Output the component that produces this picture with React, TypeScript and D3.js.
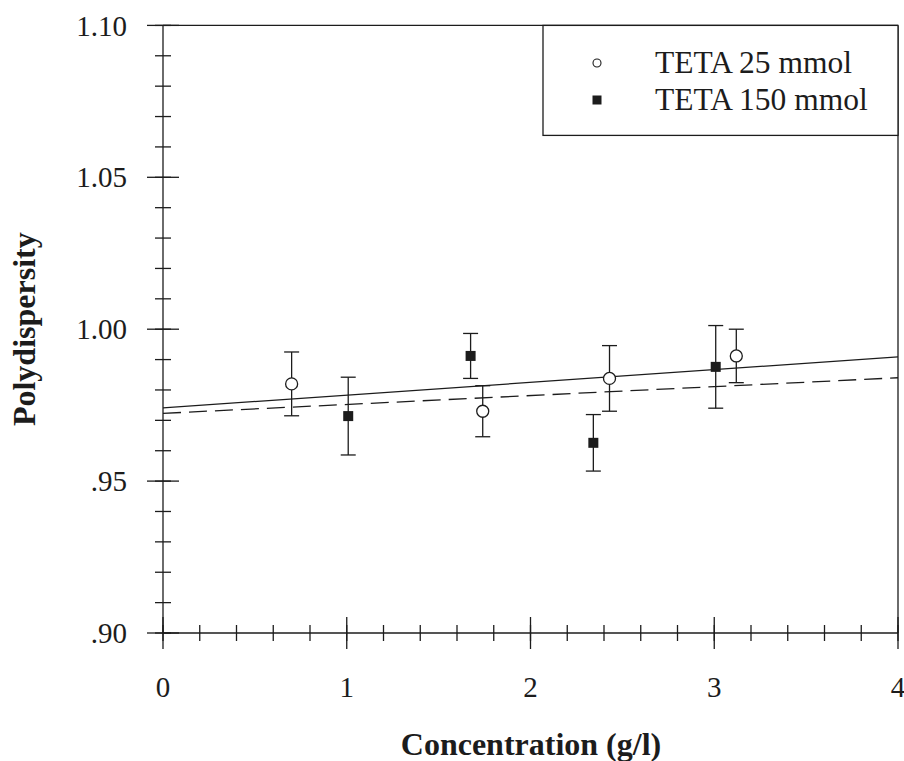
import React from "react";
import * as d3 from "d3";

const xTicks = [0, 1, 2, 3, 4];
const yTicks = [0.9, 0.95, 1.0, 1.05, 1.1];
const yTickLabels = [".90", ".95", "1.00", "1.05", "1.10"];

const teta25X = [0.70, 1.74, 2.43, 3.12];
const teta25Y = [0.982, 0.973, 0.9838, 0.9912];
const teta25Err = [0.0105, 0.0084, 0.0108, 0.0088];

const teta150X = [1.008, 1.674, 2.342, 3.008];
const teta150Y = [0.9714, 0.9912, 0.9626, 0.9876];
const teta150Err = [0.0128, 0.0074, 0.0093, 0.0136];

const fitIntercept = [0.9741, 0.9723];
const fitSlope = [0.0042, 0.00293];
const fitDash = ["", "18,8"];

const legendLabels = ["TETA 25 mmol", "TETA 150 mmol"];

const W = 904;
const H = 761;
const INK = "#1c1c1c";

export default function App() {
  const x = d3.scaleLinear().domain([0, 4]).range([163, 898]);
  const y = d3.scaleLinear().domain([0.9, 1.1]).range([633, 25.4]);

  const xMinor = d3.range(0, 4.0001, 0.2);
  const yMinor = d3.range(0.9, 1.1001, 0.01);

  const capHalf = 7.5;
  const sw = 1.3;

  const errorBars = (xs: number[], ys: number[], es: number[], key: string) =>
    xs.map((xv, i) => {
      const cx = x(xv);
      const top = y(ys[i] + es[i]);
      const bot = y(ys[i] - es[i]);
      return (
        <g key={key + i} stroke={INK} strokeWidth={sw}>
          <line x1={cx} x2={cx} y1={top} y2={bot} />
          <line x1={cx - capHalf} x2={cx + capHalf} y1={top} y2={top} />
          <line x1={cx - capHalf} x2={cx + capHalf} y1={bot} y2={bot} />
        </g>
      );
    });

  return (
    <div style={{ position: "fixed", left: 0, top: 0 }}>
      <svg width={W} height={H} style={{ display: "block", background: "#fff" }}
        fontFamily="'Liberation Serif', 'Times New Roman', serif">
        <rect x={0} y={0} width={W} height={H} fill="#fff" />
        {/* frame */}
        <g stroke={INK} strokeWidth={sw} fill="none">
          <line x1={x(0)} x2={x(4)} y1={y(1.1)} y2={y(1.1)} />
          <line x1={x(4)} x2={x(4)} y1={y(1.1)} y2={y(0.9)} />
          <line x1={x(0)} x2={x(4)} y1={y(0.9)} y2={y(0.9)} />
          <line x1={x(0)} x2={x(0)} y1={y(1.1)} y2={y(0.9)} />
        </g>
        {/* y ticks */}
        <g stroke={INK} strokeWidth={sw}>
          {yMinor.map((v, i) => (
            <line key={"ym" + i} x1={x(0) - 8} x2={x(0) + 8} y1={y(v)} y2={y(v)} />
          ))}
          {yTicks.map((v, i) => (
            <line key={"yM" + i} x1={x(0) - 16} x2={x(0) + 16} y1={y(v)} y2={y(v)} />
          ))}
          {xMinor.map((v, i) => (
            <line key={"xm" + i} x1={x(v)} x2={x(v)} y1={y(0.9) - 8} y2={y(0.9) + 8} />
          ))}
          {xTicks.map((v, i) => (
            <line key={"xM" + i} x1={x(v)} x2={x(v)} y1={y(0.9) - 16} y2={y(0.9) + 16} />
          ))}
        </g>
        {/* tick labels */}
        <g fill={INK} fontSize={29}>
          {yTicks.map((v, i) => (
            <text key={"yl" + i} x={127} y={y(v)} dy="0.35em" textAnchor="end">
              {yTickLabels[i]}
            </text>
          ))}
          {xTicks.map((v, i) => (
            <text key={"xl" + i} x={x(v)} y={697} textAnchor="middle">
              {String(v)}
            </text>
          ))}
        </g>
        {/* axis titles */}
        <text x={531} y={755} textAnchor="middle" fontSize={32} fontWeight="bold" fill={INK}>
          Concentration (g/l)
        </text>
        <text transform={`translate(35, ${y(1.0)}) rotate(-90)`} textAnchor="middle"
          fontSize={32} fontWeight="bold" fill={INK}>
          Polydispersity
        </text>
        {/* fit lines */}
        {fitIntercept.map((b, i) => (
          <line key={"fit" + i} x1={x(0)} x2={x(4)} y1={y(b)} y2={y(b + fitSlope[i] * 4)}
            stroke={INK} strokeWidth={sw} strokeDasharray={fitDash[i] || undefined} />
        ))}
        {/* error bars */}
        {errorBars(teta25X, teta25Y, teta25Err, "e25")}
        {errorBars(teta150X, teta150Y, teta150Err, "e150")}
        {/* markers */}
        {teta25X.map((xv, i) => (
          <circle key={"c" + i} cx={x(xv)} cy={y(teta25Y[i])} r={6} fill="#fff"
            stroke={INK} strokeWidth={sw} />
        ))}
        {teta150X.map((xv, i) => (
          <rect key={"s" + i} x={x(xv) - 5} y={y(teta150Y[i]) - 5} width={10} height={10}
            fill={INK} />
        ))}
        {/* legend */}
        <rect x={543} y={25.4} width={x(4) - 543} height={110} fill="#fff" stroke={INK} strokeWidth={sw} />
        <circle cx={597} cy={63} r={4} fill="#fff" stroke={INK} strokeWidth={1.1} />
        <rect x={592.5} y={95.5} width={9} height={9} fill={INK} />
        <g fill={INK} fontSize={31.5}>
          {legendLabels.map((t, i) => (
            <text key={"lg" + i} x={655} y={73 + i * 37}>{t}</text>
          ))}
        </g>
      </svg>
    </div>
  );
}
